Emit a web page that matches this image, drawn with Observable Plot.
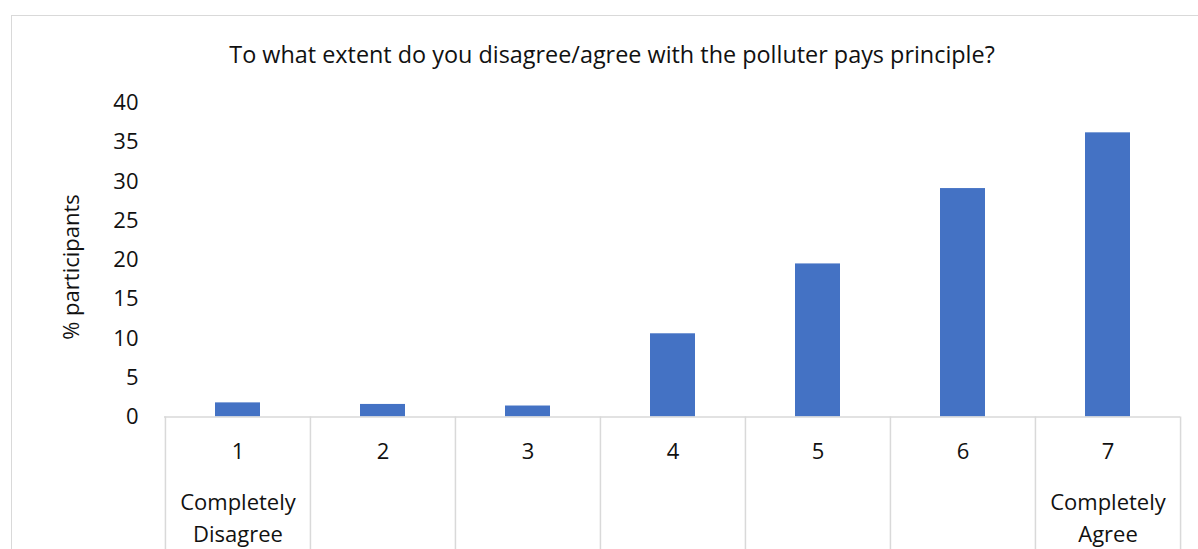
<!DOCTYPE html>
<html><head><meta charset="utf-8">
<script src="https://cdn.jsdelivr.net/npm/d3@7"></script>
<script src="https://cdn.jsdelivr.net/npm/@observablehq/plot@0.6"></script>
<style>
body{margin:0;background:#fff;overflow:hidden;}
#frame{position:absolute;left:11px;top:15px;width:1300px;height:700px;border:1px solid #d9d9d9;box-sizing:border-box;}
#chart{position:absolute;left:0;top:0;}
</style></head><body>
<div id="frame"></div>
<div id="chart"></div>
<script>
const title = "To what extent do you disagree/agree with the polluter pays principle?";
const yLabel = "% participants";
const categories = ["1", "2", "3", "4", "5", "6", "7"];
const values = [1.8, 1.6, 1.4, 10.6, 19.5, 29.1, 36.2];
const subLabels = ["Completely\nDisagree", "", "", "", "", "", "Completely\nAgree"];
const yTicks = [0, 5, 10, 15, 20, 25, 30, 35, 40];

const data = categories.map((c, i) => ({cat: c, value: values[i], sub: subLabels[i]}));

const W = 1198, H = 549, mL = 164, mR = 18;
const yRange = [416.5, 102.5];
const step = (W - mL - mR) / categories.length;
const grid = "#d9d9d9";
const ink = "#111";

const chart = Plot.plot({
  width: W,
  height: H,
  marginLeft: mL,
  marginRight: mR,
  marginTop: 0,
  marginBottom: 0,
  style: {fontFamily: "'Open Sans', sans-serif", fontSize: "22px", color: ink, background: "transparent"},
  x: {domain: categories, padding: 0, axis: null},
  y: {domain: [0, 40], range: yRange, axis: null},
  marks: [
    Plot.barY(data, {x: "cat", y: "value", fill: "#4472C4", insetLeft: 50, insetRight: 50}),
    Plot.ruleY([0], {stroke: grid, strokeWidth: 1.5}),
    Plot.ruleX(data, {x: "cat", dx: -step / 2, insetTop: yRange[0], stroke: grid, strokeWidth: 1.5}),
    Plot.ruleX(data.slice(-1), {x: "cat", dx: step / 2, insetTop: yRange[0], stroke: grid, strokeWidth: 1.5}),
    Plot.axisY({ticks: yTicks, tickSize: 0, tickPadding: 26, label: null, fill: ink}),
    Plot.text(data, {x: "cat", y: 0, text: "cat", dy: 34.5, fill: ink}),
    Plot.text(data, {x: "cat", y: 0, text: "sub", dy: 99, lineHeight: 1.42, fill: ink}),
    Plot.text([yLabel], {y: 20, frameAnchor: "left", textAnchor: "middle", lineAnchor: "middle", rotate: -90, dx: -92.5, dy: 7, fill: ink}),
    Plot.text([title], {frameAnchor: "top", lineAnchor: "middle", dx: 611.5 - (mL + (W - mL - mR) / 2), dy: 55, fontSize: 23.4, fill: ink})
  ]
});
document.getElementById("chart").append(chart);
</script>
</body></html>
